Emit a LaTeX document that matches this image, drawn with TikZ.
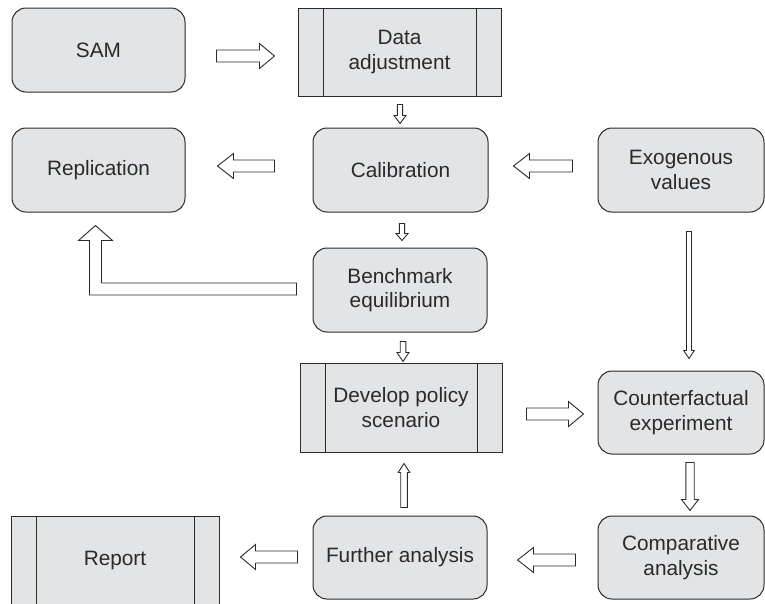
\documentclass[tikz,border=0pt]{standalone}
\usepackage{fontspec}
\setmainfont{Liberation Sans}
\usetikzlibrary{positioning,calc}

\definecolor{boxgray}{RGB}{227,228,230}
\definecolor{inkgray}{RGB}{42,42,42}

\tikzset{
  stepbox/.style={draw=inkgray, fill=boxgray, line width=1pt, rounded corners=14pt,
    minimum width=174pt, minimum height=84pt, inner sep=0pt, align=center,
    text=inkgray, font=\fontsize{20.8}{24.5}\selectfont},
  procbox/.style={stepbox, sharp corners, minimum width=203pt, minimum height=88pt,
    path picture={
      \draw[inkgray, line width=1pt]
        ([xshift=25pt]path picture bounding box.north west) -- ([xshift=25pt]path picture bounding box.south west)
        ([xshift=-25pt]path picture bounding box.north east) -- ([xshift=-25pt]path picture bounding box.south east);
    }},
  arrowline/.style={draw=inkgray, fill=white, line width=0.9pt, line join=miter},
}

% hollow block arrow: tail, tip, shaft half width, head half width, head length
\newcommand\hollowarrow[5]{%
  \path (#1) coordinate (ha-t) (#2) coordinate (ha-p);
  \path ($(ha-p)!#5!(ha-t)$) coordinate (ha-b);
  \draw[arrowline] ($(ha-t)!#3!90:(ha-p)$) -- ($(ha-b)!#3!90:(ha-p)$)
    -- ($(ha-b)!#4!90:(ha-p)$) -- (ha-p) -- ($(ha-b)!#4!-90:(ha-p)$)
    -- ($(ha-b)!#3!-90:(ha-p)$) -- ($(ha-t)!#3!-90:(ha-p)$) -- cycle;
}

\begin{document}
\begin{tikzpicture}[x=1pt, y=-1pt]
  \useasboundingbox (0,0) rectangle (765,603);
  \clip (0,0) rectangle (765,603);

  % boxes
  \node[stepbox, minimum width=173pt] (sam) at (98.5,50) {SAM};
  \node[procbox] (data) at (399.5,52) {Data\\adjustment};
  \node[stepbox, minimum width=173pt] (repl) at (98.5,170) {Replication};
  \node[stepbox, minimum width=175pt] (calib) at (400.5,170) {Calibration};
  \node[stepbox, minimum width=166pt] (exo) at (681,170) {Exogenous\\values};
  \node[stepbox] (bench) at (400,290) {Benchmark\\equilibrium};
  \node[procbox, minimum width=202pt, minimum height=89pt] (policy) at (401,407.5) {Develop policy\\scenario};
  \node[stepbox, minimum width=166pt, minimum height=83pt] (counter) at (681,412.5) {Counterfactual\\experiment};
  \node[stepbox, minimum width=166pt, minimum height=83pt] (compar) at (681,557.5) {Comparative\\analysis};
  \node[stepbox, minimum height=83pt] (further) at (400,557.5) {Further analysis};
  \node[procbox, minimum width=208pt] (report) at (115,560) {Report};

  % wide arrows
  \hollowarrow{$(sam.east)+(31,6)$}{$(data.west)+(-23,4)$}{6pt}{12.5pt}{15pt}
  \hollowarrow{$(calib.west)+(-38,-4)$}{$(repl.east)+(32,-4)$}{6pt}{12.5pt}{16pt}
  \hollowarrow{$(exo.west)+(-25,-4)$}{$(calib.east)+(25,-4)$}{6pt}{12.5pt}{16pt}
  \hollowarrow{$(policy.east)+(24,6.5)$}{$(counter.west)+(-14,1.5)$}{6pt}{12.5pt}{15pt}
  \hollowarrow{$(compar.west)+(-22,2.5)$}{$(further.east)+(30,2.5)$}{6pt}{12.5pt}{16pt}
  \hollowarrow{$(further.west)+(-15,-0.5)$}{$(report.east)+(21,-3)$}{6pt}{12.5pt}{15pt}

  % narrow arrows
  \hollowarrow{$(data.south)+(0.5,8)$}{$(calib.north)+(-0.5,-4)$}{2.6pt}{6pt}{8pt}
  \hollowarrow{$(calib.south)+(1.5,11)$}{$(bench.north)+(2,-7)$}{2.6pt}{6pt}{7pt}
  \hollowarrow{$(bench.south)+(3,9)$}{$(policy.north)+(2,-1)$}{2.8pt}{6pt}{9pt}
  \hollowarrow{$(exo.south)+(8,19)$}{$(counter.north)+(8,-12)$}{2.5pt}{5.3pt}{8pt}
  \hollowarrow{$(counter.south)+(9,8)$}{$(compar.north)+(9,-5)$}{4.2pt}{8.5pt}{11pt}
  \hollowarrow{$(further.north)+(4,-8)$}{$(policy.south)+(3,11)$}{3.3pt}{5.8pt}{9pt}

  % elbow arrow back to replication
  \path (bench.west) ++(-16,-1) coordinate (eb-t);
  \path (repl.south) ++(-3,13) coordinate (eb-p);
  \coordinate (eb-c) at (eb-p |- eb-t);
  \draw[arrowline] ($(eb-t)+(0,-6)$) -- ($(eb-c)+(6,-6)$) -- ($(eb-p)+(6,15)$)
    -- ($(eb-p)+(17,15)$) -- (eb-p) -- ($(eb-p)+(-17,15)$) -- ($(eb-p)+(-6,15)$)
    -- ($(eb-c)+(-6,6)$) -- ($(eb-t)+(0,6)$) -- cycle;
\end{tikzpicture}
\end{document}
